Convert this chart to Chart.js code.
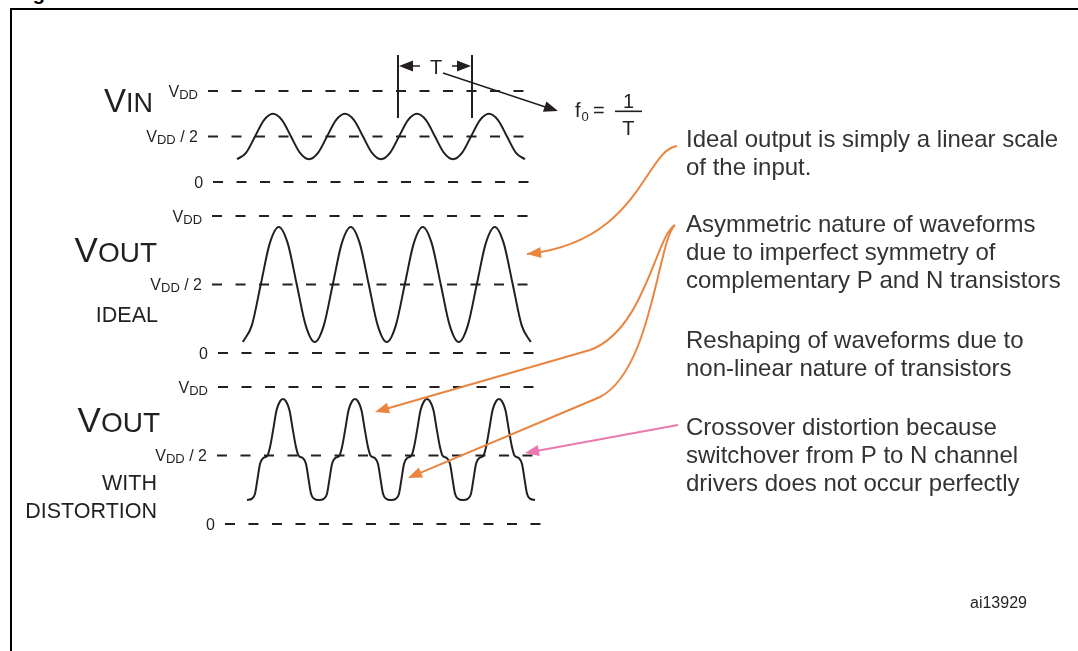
<!DOCTYPE html>
<html>
<head>
<meta charset="utf-8">
<script src="https://cdn.jsdelivr.net/npm/chart.js@4.4.1/dist/chart.umd.min.js"></script>
<style>
html, body { margin: 0; padding: 0; background: #fff; overflow: hidden; }
body { width: 1078px; height: 651px; position: relative; }
#title { position: absolute; left: 15px; top: -18px; font: bold 20px "Liberation Sans", Arial, sans-serif; color: #000; white-space: nowrap; }
#frame { position: absolute; left: 10px; top: 8px; width: 1120px; height: 700px; border-left: 2px solid #000; border-top: 2px solid #000; }
#wave { position: absolute; left: 0; top: 0; }
</style>
</head>
<body>
<div id="title">Figure 5. Linear and nonlinear distortion</div>
<div id="frame"></div>
<canvas id="wave" width="1078" height="651" style="width:1078px;height:651px"></canvas>
<script>
// time is in periods (T), levels are in units of VDD

// input sine
const inT = [0, 0.125, 0.25, 0.375, 0.5, 0.625, 0.75, 0.875,
    1, 1.125, 1.25, 1.375, 1.5, 1.625, 1.75, 1.875,
    2, 2.125, 2.25, 2.375, 2.5, 2.625, 2.75, 2.875,
    3, 3.125, 3.25, 3.375, 3.5, 3.625, 3.75, 3.875, 4];
const inV = [0.25, 0.32, 0.5, 0.68, 0.75, 0.68, 0.5, 0.32,
    0.25, 0.32, 0.5, 0.68, 0.75, 0.68, 0.5, 0.32,
    0.25, 0.32, 0.5, 0.68, 0.75, 0.68, 0.5, 0.32,
    0.25, 0.32, 0.5, 0.68, 0.75, 0.68, 0.5, 0.32, 0.25];

// ideal output
const idealT = [0.08, 0.205, 0.33, 0.455, 0.58, 0.705, 0.83, 0.955,
    1.08, 1.205, 1.33, 1.455, 1.58, 1.705, 1.83, 1.955,
    2.08, 2.205, 2.33, 2.455, 2.58, 2.705, 2.83, 2.955,
    3.08, 3.205, 3.33, 3.455, 3.58, 3.705, 3.83, 3.955, 4.08];
const idealV = [0.08, 0.2, 0.5, 0.8, 0.92, 0.8, 0.5, 0.2,
    0.08, 0.2, 0.5, 0.8, 0.92, 0.8, 0.5, 0.2,
    0.08, 0.2, 0.5, 0.8, 0.92, 0.8, 0.5, 0.2,
    0.08, 0.2, 0.5, 0.8, 0.92, 0.8, 0.5, 0.2, 0.08];

// output with distortion
const distT = [0.139, 0.208, 0.250, 0.285, 0.320, 0.361, 0.424, 0.458, 0.500, 0.549, 0.597,
    0.639, 0.681, 0.729, 0.778, 0.820, 0.854, 0.917, 0.958, 0.993, 1.028, 1.070,
    1.139, 1.208, 1.250, 1.285, 1.320, 1.361, 1.424, 1.458, 1.500, 1.549, 1.597,
    1.639, 1.681, 1.729, 1.778, 1.820, 1.854, 1.917, 1.958, 1.993, 2.028, 2.070,
    2.139, 2.208, 2.250, 2.285, 2.320, 2.361, 2.424, 2.458, 2.500, 2.549, 2.597,
    2.639, 2.681, 2.729, 2.778, 2.820, 2.854, 2.917, 2.958, 2.993, 3.028, 3.070,
    3.139, 3.208, 3.250, 3.285, 3.320, 3.361, 3.424, 3.458, 3.500, 3.549, 3.597,
    3.639, 3.681, 3.729, 3.778, 3.820, 3.854, 3.917, 3.958, 3.993, 4.028, 4.070, 4.139];
const distV = [0.175, 0.185, 0.22, 0.33, 0.44, 0.48, 0.50, 0.56, 0.68, 0.83, 0.895,
    0.912, 0.895, 0.83, 0.68, 0.56, 0.50, 0.48, 0.44, 0.33, 0.22, 0.185,
    0.175, 0.185, 0.22, 0.33, 0.44, 0.48, 0.50, 0.56, 0.68, 0.83, 0.895,
    0.912, 0.895, 0.83, 0.68, 0.56, 0.50, 0.48, 0.44, 0.33, 0.22, 0.185,
    0.175, 0.185, 0.22, 0.33, 0.44, 0.48, 0.50, 0.56, 0.68, 0.83, 0.895,
    0.912, 0.895, 0.83, 0.68, 0.56, 0.50, 0.48, 0.44, 0.33, 0.22, 0.185,
    0.175, 0.185, 0.22, 0.33, 0.44, 0.48, 0.50, 0.56, 0.68, 0.83, 0.895,
    0.912, 0.895, 0.83, 0.68, 0.56, 0.50, 0.48, 0.44, 0.33, 0.22, 0.185, 0.175];

// reference levels and where their dashed lines run
const levels = [1, 0.5, 0];
const levelNames = ['VDD', 'VDD / 2', '0'];
const inLineStart = [-0.403, -0.403, -0.333];
const inLineEnd = [4.12, 4.12, 4.12];
const idealLineStart = [-0.347, -0.347, -0.264];
const idealLineEnd = [4.15, 4.15, 4.15];
const distLineStart = [-0.264, -0.278, -0.167];
const distLineEnd = [4.21, 4.24, 4.29];

// period marker
const periodMarks = [2.236, 3.264];
const periodMarkTop = 1.396;
const periodMarkBottom = 0.703;

const notes = [
    ['Ideal output is simply a linear scale', 'of the input.'],
    ['Asymmetric nature of waveforms', 'due to imperfect symmetry of', 'complementary P and N transistors'],
    ['Reshaping of waveforms due to', 'non-linear nature of transistors'],
    ['Crossover distortion because', 'switchover from P to N channel', 'drivers does not occur perfectly']
];
const figureId = 'ai13929';

// callout arrows, in (t, level) of the panel they point into
const callouts = [
    { axis: 'yIdeal', color: '#ea8540', pts: [[6.111, 1.511], [5.667, 1.482], [5.597, 0.810], [4.028, 0.723]] },
    { axis: 'yDist', color: '#ea8540', pts: [[6.083, 2.182], [5.819, 2.109], [5.667, 1.416], [4.903, 1.270], [1.917, 0.818]] },
    { axis: 'yDist', color: '#ea8540', pts: [[6.083, 2.182], [5.847, 2.073], [5.764, 1.124], [5.042, 0.927], [2.375, 0.336]] },
    { axis: 'yDist', color: '#ec78b0', pts: [[6.125, 0.723], [4.0, 0.518]] }
];

const INK = '#231f20';
const FONT = '"Liberation Sans", Arial, Helvetica, sans-serif';
const W = 1078, H = 651;

// place each panel: pixel row of VDD and of 0
function band(vddPx, zeroPx) {
    const u = zeroPx - vddPx;
    return { min: -(H - zeroPx) / u, max: 1 + vddPx / u };
}

function pts(ts, vs) {
    return ts.map((t, i) => ({ x: t, y: vs[i] }));
}

const panels = [
    { axis: 'yIn', start: inLineStart, end: inLineEnd },
    { axis: 'yIdeal', start: idealLineStart, end: idealLineEnd },
    { axis: 'yDist', start: distLineStart, end: distLineEnd }
];

const datasets = [];
panels.forEach(p => {
    levels.forEach((lv, i) => {
        datasets.push({
            data: [{ x: p.start[i], y: lv }, { x: p.end[i], y: lv }],
            yAxisID: p.axis,
            borderColor: INK,
            borderWidth: 2,
            borderDash: [10, 13.5]
        });
    });
});
periodMarks.forEach(t => {
    datasets.push({
        data: [{ x: t, y: periodMarkTop }, { x: t, y: periodMarkBottom }],
        yAxisID: 'yIn',
        borderColor: INK,
        borderWidth: 2
    });
});
[[inT, inV, 'yIn'], [idealT, idealV, 'yIdeal'], [distT, distV, 'yDist']].forEach(w => {
    datasets.push({
        data: pts(w[0], w[1]),
        yAxisID: w[2],
        borderColor: INK,
        borderWidth: 2,
        tension: 0.4,
        cubicInterpolationMode: 'monotone'
    });
});

function setFont(ctx, size) {
    ctx.font = size + 'px ' + FONT;
}

// parts: [text, size, dy]; drawn right-aligned at xRight
function drawParts(ctx, parts, xRight, baseline) {
    let total = 0;
    parts.forEach(p => { setFont(ctx, p[1]); total += ctx.measureText(p[0]).width; });
    let x = xRight - total;
    parts.forEach(p => {
        setFont(ctx, p[1]);
        ctx.fillText(p[0], x, baseline + (p[2] || 0));
        x += ctx.measureText(p[0]).width;
    });
}

function levelParts(name) {
    if (name === '0') return [['0', 16, 0]];
    const parts = [['V', 16, 0], ['DD', 13, 2]];
    if (name.length > 3) parts.push([name.slice(3), 16, 0]);
    return parts;
}

function arrowHead(ctx, fx, fy, tx, ty, color) {
    const a = Math.atan2(ty - fy, tx - fx);
    ctx.save();
    ctx.translate(tx, ty);
    ctx.rotate(a);
    ctx.beginPath();
    ctx.moveTo(0, 0);
    ctx.lineTo(-14, -5.5);
    ctx.lineTo(-14, 5.5);
    ctx.closePath();
    ctx.fillStyle = color;
    ctx.fill();
    ctx.restore();
}

const annotations = {
    id: 'annotations',
    afterDatasetsDraw(chart) {
        const ctx = chart.ctx;
        const sx = chart.scales.x;
        const px = t => sx.getPixelForValue(t);
        const py = (axis, v) => chart.scales[axis].getPixelForValue(v);
        ctx.save();
        ctx.fillStyle = INK;
        ctx.textBaseline = 'alphabetic';

        // level labels next to each dashed line
        panels.forEach(p => {
            levels.forEach((lv, i) => {
                drawParts(ctx, levelParts(levelNames[i]), px(p.start[i]) - 10, py(p.axis, lv) + 5.5);
            });
        });

        // panel names
        drawParts(ctx, [['V', 33], ['IN', 27]], 153, 112);
        drawParts(ctx, [['V', 35], ['OUT', 28]], 157, 262);
        drawParts(ctx, [['IDEAL', 21.5]], 158, 322);
        drawParts(ctx, [['V', 35], ['OUT', 28]], 160, 432);
        drawParts(ctx, [['WITH', 21.5]], 157, 490);
        drawParts(ctx, [['DISTORTION', 21.5]], 157, 518);

        // period marker arrows and T
        const my = py('yIn', 1.275);
        ctx.strokeStyle = INK;
        ctx.lineWidth = 1.5;
        ctx.beginPath();
        ctx.moveTo(px(2.542), my); ctx.lineTo(px(2.25) + 6, my);
        ctx.moveTo(px(2.986), my); ctx.lineTo(px(3.25) - 6, my);
        ctx.stroke();
        arrowHead(ctx, px(2.542), my, px(2.25), my, INK);
        arrowHead(ctx, px(2.986), my, px(3.25), my, INK);
        setFont(ctx, 20);
        ctx.textAlign = 'center';
        ctx.fillText('T', px(2.764), my + 8);
        ctx.textAlign = 'left';

        // pointer to f0 = 1/T
        const d0x = px(2.861), d0y = py('yIn', 1.198);
        const d1x = px(4.458), d1y = py('yIn', 0.780);
        ctx.beginPath();
        ctx.moveTo(d0x, d0y); ctx.lineTo(d1x - 8, d1y - 2.6);
        ctx.stroke();
        arrowHead(ctx, d0x, d0y, d1x, d1y, INK);
        const fx = d1x + 17, fy = d1y + 6;
        setFont(ctx, 20);
        ctx.fillText('f', fx, fy);
        setFont(ctx, 13);
        ctx.fillText('0', fx + 6.5, fy + 4);
        setFont(ctx, 20);
        ctx.fillText('=', fx + 18, fy);
        ctx.fillRect(fx + 40, fy - 6.5, 27, 1.6);
        ctx.textAlign = 'center';
        ctx.fillText('1', fx + 53.5, fy - 9);
        ctx.fillText('T', fx + 53.5, fy + 18);
        ctx.textAlign = 'left';

        // callout arrows
        ctx.lineWidth = 2;
        callouts.forEach(c => {
            const p = c.pts.map(q => [px(q[0]), py(c.axis, q[1])]);
            ctx.strokeStyle = c.color;
            ctx.beginPath();
            ctx.moveTo(p[0][0], p[0][1]);
            let from;
            if (p.length >= 4) {
                ctx.bezierCurveTo(p[1][0], p[1][1], p[2][0], p[2][1], p[3][0], p[3][1]);
                from = p[2];
            }
            const last = p[p.length - 1];
            if (p.length !== 4) {
                from = p[p.length - 2];
                const a = Math.atan2(last[1] - from[1], last[0] - from[0]);
                ctx.lineTo(last[0] - 10 * Math.cos(a), last[1] - 10 * Math.sin(a));
            }
            ctx.stroke();
            arrowHead(ctx, from[0], from[1], last[0], last[1], c.color);
        });

        // notes on the right
        ctx.fillStyle = '#333';
        setFont(ctx, 24);
        const blockTops = [147, 232, 348, 435];
        notes.forEach((lines, b) => {
            lines.forEach((s, i) => ctx.fillText(s, 686, blockTops[b] + i * 28));
        });

        ctx.fillStyle = INK;
        setFont(ctx, 16);
        ctx.fillText(figureId, 970, 608);
        ctx.restore();
    }
};

const bIn = band(91, 182);
const bIdeal = band(216, 353);
const bDist = band(387, 524);

new Chart(document.getElementById('wave'), {
    type: 'scatter',
    data: { datasets: datasets },
    options: {
        responsive: false,
        animation: false,
        showLine: true,
        pointRadius: 0,
        pointHoverRadius: 0,
        layout: { padding: 0 },
        plugins: {
            legend: { display: false },
            tooltip: { enabled: false },
            title: { display: false }
        },
        events: [],
        scales: {
            x: { type: 'linear', min: -237 / 72, max: (W - 237) / 72, display: false },
            y: { display: false },
            yIn: { type: 'linear', min: bIn.min, max: bIn.max, display: false },
            yIdeal: { type: 'linear', min: bIdeal.min, max: bIdeal.max, display: false },
            yDist: { type: 'linear', min: bDist.min, max: bDist.max, display: false }
        }
    },
    plugins: [annotations]
});
</script>
</body>
</html>
